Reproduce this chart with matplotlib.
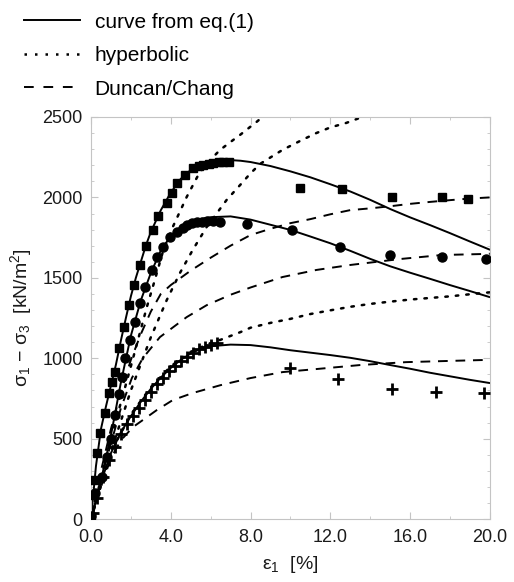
import numpy as np
import matplotlib
matplotlib.use('Agg')
import matplotlib.pyplot as plt
from matplotlib.ticker import MultipleLocator, FormatStrFormatter

plt.rcParams['font.family'] = ['Liberation Sans', 'DejaVu Sans']
plt.rcParams['mathtext.default'] = 'regular'

# ---- measured points (strain in %, deviator stress in kN/m2) ----
sq_x = [0.0, 0.1, 0.15, 0.3, 0.45, 0.7, 0.9, 1.05, 1.2, 1.4, 1.65, 1.9, 2.15, 2.46, 2.76,
        3.1, 3.36, 3.8, 4.05, 4.3, 4.7, 5.1, 5.4, 5.6, 5.9, 6.1, 6.4, 6.6, 6.9,
        10.5, 12.6, 15.1, 17.6, 18.9]
sq_y = [15, 150, 243, 410, 535, 659, 783, 850, 914, 1063, 1194, 1331, 1455, 1580, 1698,
        1797, 1884, 1965, 2030, 2090, 2139, 2183, 2195, 2201, 2210, 2214, 2218, 2220, 2222,
        2058, 2052, 2002, 2002, 1990]

ci_x = [0.0, 0.2, 0.55, 0.8, 1.0, 1.2, 1.4, 1.55, 1.7, 1.95, 2.2, 2.46, 2.7, 3.06, 3.3,
        3.6, 3.96, 4.3, 4.6, 4.8, 5.05, 5.3, 5.55, 5.8, 6.1, 6.45,
        7.8, 10.1, 12.5, 15.0, 17.6, 19.8]
ci_y = [20, 162, 261, 386, 500, 650, 780, 883, 1001, 1113, 1225, 1343, 1443, 1549, 1630,
        1692, 1754, 1785, 1810, 1828, 1840, 1847, 1850, 1853, 1853, 1850,
        1834, 1797, 1692, 1642, 1629, 1617]

cr_x = [0.1, 0.3, 0.6, 0.9, 1.2, 1.5, 1.8, 2.1, 2.4, 2.7, 3.0, 3.3, 3.6, 3.9, 4.2, 4.5,
        4.8, 5.1, 5.4, 5.7, 6.0, 6.3, 10.0, 12.4, 15.1, 17.3, 19.7]
cr_y = [40, 130, 260, 370, 450, 530, 590, 640, 690, 740, 790, 840, 880, 920, 955, 985,
        1010, 1035, 1055, 1070, 1080, 1095, 939, 870, 808, 790, 784]

# ---- curve from eq.(1) ----
eq_top_x = [0, 0.25, 0.5, 0.75, 1.0, 1.25, 1.5, 1.75, 2.0, 2.25, 2.5, 2.75, 3.0, 3.5, 4.0,
            4.5, 5.0, 5.5, 6.0, 6.5, 7.0, 7.5, 8.0, 9, 10, 11, 12, 13, 14, 15, 16, 17,
            18, 19, 20]
eq_top_y = [0, 330, 560, 700, 830, 960, 1110, 1250, 1385, 1500, 1600, 1700, 1785, 1920, 2030,
            2115, 2170, 2205, 2222, 2230, 2232, 2228, 2220, 2195, 2162, 2125, 2082, 2037,
            1985, 1928, 1876, 1828, 1778, 1726, 1675]

eq_mid_x = [0, 0.5, 1.0, 1.5, 2.0, 2.5, 3.0, 3.5, 4.0, 4.5, 5.0, 5.5, 6.0, 7.0, 8.0, 9, 10,
            11, 12, 13, 14, 15, 16, 17, 18, 19, 20]
eq_mid_y = [0, 240, 520, 850, 1140, 1360, 1530, 1670, 1760, 1815, 1848, 1866, 1877, 1882,
            1862, 1830, 1798, 1757, 1715, 1668, 1618, 1572, 1532, 1494, 1455, 1418, 1380]

eq_low_x = [0, 0.5, 1.0, 1.5, 2.0, 2.5, 3.0, 3.5, 4.0, 4.5, 5.0, 5.5, 6.0, 7, 8, 9, 10, 11,
            12, 13, 14, 15, 16, 17, 18, 19, 20]
eq_low_y = [0, 230, 410, 540, 640, 730, 810, 880, 940, 990, 1030, 1058, 1075, 1085, 1082,
            1068, 1050, 1035, 1020, 1003, 982, 958, 935, 910, 888, 866, 846]

# ---- hyperbolic ----
hy_top_x = [0, 1.0, 2.0, 2.8, 3.2, 3.6, 4.1, 4.8, 5.46, 6.0, 6.47, 7.0, 7.47, 8.0, 8.3, 8.6]
hy_top_y = [0, 500, 950, 1318, 1486, 1660, 1816, 2003, 2158, 2235, 2295, 2345, 2388, 2440,
            2469, 2500]

hy_mid_x = [0, 1.0, 2.0, 3.0, 3.8, 4.46, 5.1, 5.8, 6.8, 7.5, 8.0, 8.5, 9.6, 10.5, 11.3,
            12.0, 12.8, 13.6]
hy_mid_y = [0, 420, 800, 1130, 1362, 1530, 1673, 1816, 1984, 2080, 2150, 2210, 2295, 2352,
            2400, 2435, 2463, 2500]

hy_low_x = [0, 1, 2, 3, 4, 5, 6, 6.5, 7.5, 8, 9, 10, 11, 12, 13, 14, 15, 16, 17, 18, 19, 20]
hy_low_y = [0, 420, 650, 820, 950, 1040, 1095, 1115, 1163, 1190, 1220, 1245, 1275, 1298,
            1320, 1338, 1352, 1365, 1375, 1385, 1398, 1410]

# ---- Duncan/Chang ----
dc_top_x = [0, 0.5, 1.0, 1.5, 2.0, 2.5, 3.0, 3.5, 4.0, 4.5, 5.0, 5.5, 6.0, 7, 8, 9, 10, 11,
            12, 13, 14, 15, 16, 17, 18, 19, 20]
dc_top_y = [0, 300, 560, 790, 990, 1150, 1290, 1400, 1455, 1500, 1545, 1585, 1625, 1700,
            1766, 1805, 1840, 1865, 1895, 1921, 1932, 1945, 1960, 1972, 1983, 1993, 2000]

dc_mid_x = [0, 0.5, 1.0, 1.5, 2.05, 2.6, 3.46, 4.8, 5.8, 7, 8, 9.6, 11.3, 13, 15.5, 17.6,
            19.6, 20]
dc_mid_y = [0, 250, 470, 690, 877, 1001, 1132, 1256, 1330, 1395, 1440, 1505, 1549, 1580,
            1617, 1642, 1648, 1650]

dc_low_x = [0, 0.5, 1.0, 1.5, 2.1, 2.6, 3.3, 4.1, 5.1, 6.5, 8.0, 9.6, 11.3, 13.5, 15.8,
            17.8, 19.6, 20]
dc_low_y = [0, 200, 380, 490, 572, 616, 678, 740, 784, 833, 877, 914, 933, 958, 976, 983,
            989, 990]

fig = plt.figure(figsize=(5.14, 5.82), dpi=100)
ax = fig.add_axes([0.177, 0.108, 0.776, 0.691])

lw = 1.4
dot_style = (0, (1, 3.2))
dash_style = (0, (5, 4))

for xs, ys in [(eq_top_x, eq_top_y), (eq_mid_x, eq_mid_y), (eq_low_x, eq_low_y)]:
    ax.plot(xs, ys, color='black', lw=lw, solid_capstyle='round', solid_joinstyle='round')
for xs, ys in [(hy_top_x, hy_top_y), (hy_mid_x, hy_mid_y), (hy_low_x, hy_low_y)]:
    ax.plot(xs, ys, color='black', lw=1.8, linestyle=dot_style, dash_capstyle='round')
for xs, ys in [(dc_top_x, dc_top_y), (dc_mid_x, dc_mid_y), (dc_low_x, dc_low_y)]:
    ax.plot(xs, ys, color='black', lw=lw, linestyle=dash_style)

ax.plot(sq_x, sq_y, 's', color='black', ms=6.3, zorder=5)
ax.plot(ci_x, ci_y, 'o', color='black', ms=6.5, zorder=5)
ax.plot(cr_x, cr_y, '+', color='black', ms=8, mew=2, zorder=5)

ax.set_xlim(0, 20)
ax.set_ylim(0, 2500)
ax.xaxis.set_major_locator(MultipleLocator(4))
ax.xaxis.set_minor_locator(MultipleLocator(2))
ax.xaxis.set_major_formatter(FormatStrFormatter('%.1f'))
ax.yaxis.set_major_locator(MultipleLocator(500))
ax.yaxis.set_minor_locator(MultipleLocator(100))

frame_c = '#c4c4c4'
for s in ax.spines.values():
    s.set_color(frame_c)
    s.set_linewidth(0.8)
ax.tick_params(which='both', direction='in', top=True, right=True, color=frame_c,
               labelsize=13, labelcolor='#1a1a1a')
ax.tick_params(which='major', length=5)
ax.tick_params(which='minor', length=2.5)
ax.tick_params(axis='x', which='major', pad=7)
ax.tick_params(axis='y', which='major', pad=6)

ax.set_xlabel(r'$\varepsilon_1$  [%]', fontsize=14, labelpad=6, color='#1a1a1a')
ax.set_ylabel(r'$\sigma_1$ $-$ $\sigma_3$  [kN/m$^2$]', fontsize=14, labelpad=6,
              color='#1a1a1a')

# legend above the plot
h1, = ax.plot([], [], color='black', lw=lw, label='curve from eq.(1)')
h2, = ax.plot([], [], color='black', lw=1.8, linestyle=(0, (1, 3.2)), label='hyperbolic')
h3, = ax.plot([], [], color='black', lw=lw, linestyle=(0, (5, 5)), label='Duncan/Chang')
fig.legend(handles=[h1, h2, h3], loc='upper left', bbox_to_anchor=(0.022, 1.0),
           frameon=False, fontsize=15, handlelength=2.7, handletextpad=0.7,
           labelspacing=0.7, borderaxespad=0.2)

fig.savefig('out.png', dpi=100)
